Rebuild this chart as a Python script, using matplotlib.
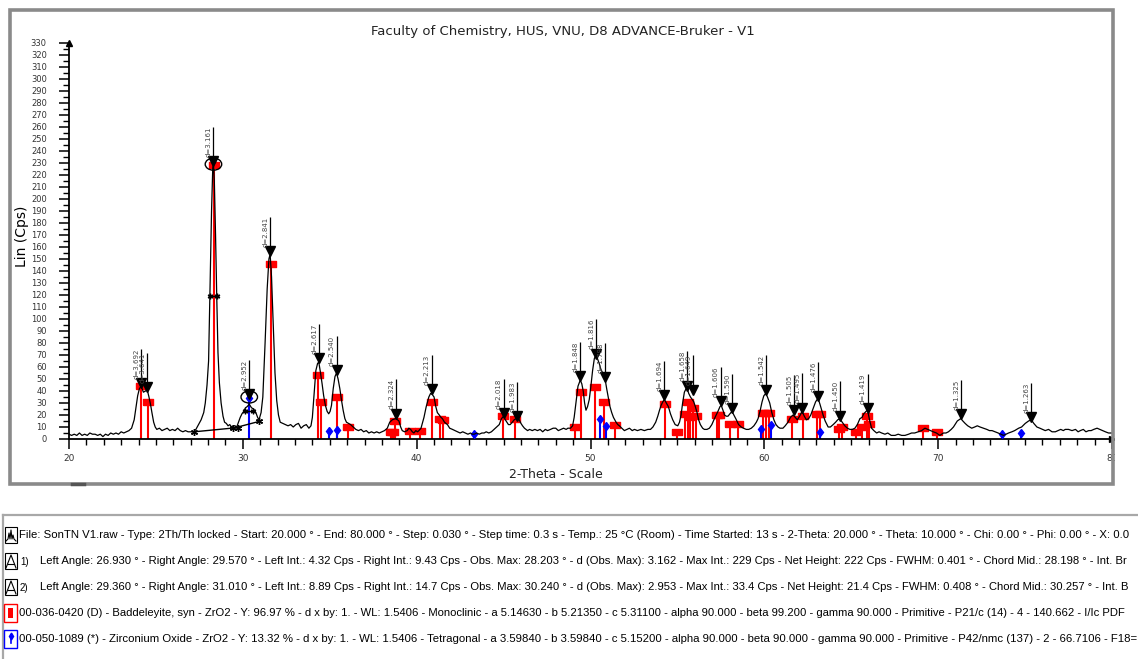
import matplotlib
matplotlib.use("Agg")
import matplotlib.pyplot as plt
from matplotlib.patches import Rectangle, Ellipse
from matplotlib.lines import Line2D
import matplotlib.transforms as mtransforms

# ---------------- data ----------------
theta = [20.00, 20.15, 20.3, 20.45, 20.6, 20.75, 20.9, 21.05, 21.2, 21.35, 21.5, 21.65, 21.8, 21.95,
         22.1, 22.25, 22.4, 22.55, 22.7, 22.85, 23.0, 23.15, 23.3, 23.45, 23.6, 23.75, 23.85, 23.95,
         24.05, 24.15, 24.28, 24.4, 24.5, 24.6, 24.7, 24.77, 24.87, 24.96, 25.05, 25.2, 25.35, 25.5,
         25.65, 25.8, 25.95, 26.1, 26.25, 26.4, 26.55, 26.7, 26.85, 27.0, 27.17, 27.3, 27.45, 27.6,
         27.75, 27.84, 27.94, 28.03, 28.1, 28.2, 28.27, 28.31, 28.36, 28.43, 28.5, 28.57, 28.65, 28.75,
         28.86, 28.95, 29.05, 29.15, 29.25, 29.35, 29.45, 29.55, 29.65, 29.75, 29.85, 29.95, 30.05,
         30.15, 30.25, 30.37, 30.5, 30.62, 30.75, 30.85, 30.93, 31.05, 31.15, 31.28, 31.4, 31.5, 31.57,
         31.65, 31.75, 31.85, 31.95, 32.05, 32.15, 32.3, 32.45, 32.6, 32.75, 32.9, 33.05, 33.2, 33.35,
         33.5, 33.65, 33.8, 33.92, 34.0, 34.1, 34.2, 34.3, 34.37, 34.47, 34.56, 34.65, 34.75, 34.85,
         34.94, 35.02, 35.1, 35.2, 35.3, 35.39, 35.48, 35.58, 35.68, 35.77, 35.87, 35.96, 36.08, 36.2,
         36.35, 36.5, 36.65, 36.8, 36.95, 37.1, 37.25, 37.4, 37.55, 37.7, 37.85, 38.0, 38.15, 38.31,
         38.45, 38.6, 38.79, 38.9, 38.98, 39.08, 39.17, 39.3, 39.46, 39.55, 39.65, 39.75, 39.84, 39.95,
         40.05, 40.13, 40.25, 40.42, 40.55, 40.7, 40.8, 40.9, 41.0, 41.1, 41.19, 41.3, 41.4, 41.48,
         41.6, 41.77, 41.9, 42.06, 42.2, 42.35, 42.5, 42.65, 42.8, 42.95, 43.1, 43.2, 43.31, 43.45,
         43.6, 43.75, 43.88, 44.0, 44.15, 44.3, 44.45, 44.6, 44.75, 44.88, 45.0, 45.1, 45.19, 45.28,
         45.38, 45.5, 45.61, 45.72, 45.8, 45.9, 46.0, 46.09, 46.2, 46.38, 46.5, 46.65, 46.8, 46.95,
         47.1, 47.25, 47.4, 47.53, 47.7, 47.85, 48.0, 48.15, 48.3, 48.45, 48.6, 48.7, 48.85, 48.97,
         49.06, 49.16, 49.28, 49.41, 49.5, 49.58, 49.66, 49.74, 49.83, 49.93, 50.03, 50.12, 50.22,
         50.31, 50.4, 50.5, 50.6, 50.7, 50.78, 50.85, 50.93, 51.02, 51.12, 51.22, 51.32, 51.47, 51.57,
         51.66, 51.8, 51.95, 52.1, 52.24, 52.4, 52.53, 52.7, 52.9, 53.1, 53.3, 53.45, 53.59, 53.75,
         53.87, 53.97, 54.06, 54.16, 54.25, 54.36, 54.48, 54.6, 54.73, 54.87, 55.02, 55.12, 55.21,
         55.3, 55.4, 55.5, 55.56, 55.65, 55.75, 55.85, 55.94, 56.03, 56.13, 56.22, 56.32, 56.45, 56.55,
         56.7, 56.84, 56.98, 57.13, 57.23, 57.33, 57.45, 57.52, 57.62, 57.71, 57.81, 57.91, 58.02,
         58.14, 58.25, 58.39, 58.52, 58.67, 58.8, 58.96, 59.1, 59.25, 59.4, 59.54, 59.64, 59.75, 59.87,
         59.97, 60.08, 60.18, 60.31, 60.43, 60.55, 60.67, 60.79, 60.9, 61.07, 61.2, 61.36, 61.5, 61.65,
         61.78, 61.9, 62.03, 62.17, 62.3, 62.42, 62.55, 62.67, 62.8, 62.95, 63.09, 63.2, 63.3, 63.38,
         63.5, 63.67, 63.8, 63.96, 64.1, 64.22, 64.34, 64.48, 64.63, 64.78, 64.92, 65.07, 65.21, 65.35,
         65.5, 65.62, 65.72, 65.85, 65.94, 66.05, 66.17, 66.3, 66.46, 66.6, 66.75, 66.94, 67.1, 67.3,
         67.52, 67.7, 67.9, 68.09, 68.3, 68.47, 68.65, 68.86, 69.05, 69.24, 69.4, 69.55, 69.72, 69.9,
         70.1, 70.3, 70.45, 70.59, 70.75, 70.88, 70.97, 71.1, 71.3, 71.42, 71.55, 71.7, 71.93, 72.1,
         72.25, 72.41, 72.6, 72.8, 72.95, 73.1, 73.28, 73.45, 73.6, 73.76, 73.9, 74.05, 74.24, 74.4,
         74.63, 74.8, 75.01, 75.2, 75.36, 75.5, 75.68, 75.85, 76.0, 76.16, 76.35, 76.55, 76.74, 76.9,
         77.05, 77.2, 77.31, 77.5, 77.7, 77.9, 78.05, 78.18, 78.35, 78.5, 78.66, 78.8, 78.95, 79.14,
         79.3, 79.45, 79.62, 79.8, 80.0]
counts = [4, 3, 4, 3, 5, 3, 4, 3, 5, 4, 4, 3, 4, 2,
          4, 3, 5, 4, 5, 4, 6, 5, 6, 7, 9, 16, 26, 36,
          42, 44, 39, 40, 41, 35, 28, 22, 14, 10, 8, 9, 7, 8,
          9, 7, 8, 7, 9, 7, 6, 7, 6, 6, 6, 8, 12, 16,
          22, 30, 45, 65, 118, 190, 226, 229, 215, 170, 118, 72, 47, 30,
          19, 14, 13, 11, 12, 10, 11, 11, 10, 14, 18, 21, 23,
          26, 27, 29, 26, 25, 22, 18, 16, 22, 35, 80, 125, 150, 154,
          135, 95, 55, 32, 20, 14, 13, 12, 11, 12, 10, 12, 13, 9,
          11, 12, 9, 11, 18, 38, 57, 63, 64, 55, 46, 36, 28, 23,
          21, 23, 28, 42, 52, 55, 50, 42, 32, 24, 17, 14, 13, 12,
          10, 8, 7, 8, 6, 7, 5, 6, 5, 6, 5, 6, 7, 9,
          14, 16, 17, 16, 15, 10, 7, 6, 7, 9, 8, 6, 5, 7,
          6, 7, 9, 18, 27, 35, 38, 37, 35, 27, 22, 20, 18, 17,
          14, 12, 9, 8, 7, 6, 5, 6, 5, 4, 5, 4, 4, 5,
          4, 5, 5, 6, 5, 6, 8, 10, 12, 17, 19, 16, 14, 12,
          12, 14, 16, 17, 18, 16, 13, 11, 9, 7, 8, 7, 8, 7,
          8, 6, 8, 7, 8, 9, 9, 7, 8, 9, 8, 9, 9, 11,
          18, 30, 44, 49, 46, 40, 30, 24, 27, 33, 45, 57, 67,
          70, 67, 63, 58, 55, 52, 49, 42, 35, 27, 22, 18, 14, 12,
          11, 9, 7, 8, 9, 7, 8, 7, 8, 7, 8, 8, 10, 14,
          19, 24, 28, 31, 33, 30, 27, 21, 16, 12, 11, 14, 20,
          30, 39, 42, 42, 38, 35, 33, 31, 27, 22, 16, 12, 9, 8,
          8, 9, 12, 17, 20, 23, 27, 28, 24, 20, 19, 19, 21,
          23, 20, 16, 12, 10, 9, 8, 8, 9, 11, 14, 17, 23, 31,
          36, 38, 35, 30, 22, 16, 12, 10, 9, 9, 11, 14, 18, 20,
          18, 16, 19, 23, 19, 16, 17, 20, 25, 31, 34, 29, 24, 20,
          15, 10, 10, 12, 14, 16, 17, 14, 11, 9, 8, 8, 9, 12,
          17, 18, 21, 23, 24, 16, 9, 7, 5, 6, 5, 4, 5, 3,
          3, 4, 3, 3, 4, 5, 5, 6, 7, 9, 8, 7, 6, 5,
          3, 5, 5, 6, 8, 10, 12, 15, 17, 15, 13, 11, 9, 10,
          11, 10, 9, 8, 7, 7, 6, 5, 4, 3, 4, 5, 6, 7,
          9, 10, 13, 15, 16, 13, 10, 9, 8, 7, 8, 6, 6, 7,
          8, 7, 8, 8, 7, 8, 6, 7, 8, 6, 7, 7, 8, 9,
          8, 7, 6, 5, 5]

# observed peaks (position, intensity, d label)
peak_theta = [24.15, 24.51, 28.30, 30.37, 31.59, 34.37, 35.39, 38.83, 40.86, 45.00, 45.80, 49.41,
              50.32, 50.85, 54.25, 55.54, 55.88, 57.48, 58.14, 60.08, 61.71, 62.19, 63.09, 64.38,
              65.94, 71.30, 75.35]
peak_int = [44, 41, 229, 35, 154, 65, 55, 18.6, 39, 19, 16.7, 50, 68.6, 49, 34, 42, 38.6, 29, 23,
            38.6, 22, 23.6, 33, 17, 23, 18, 16]
peak_labels = ["d=3.692", "d=3.641", "d=3.161", "d=2.952", "d=2.841", "d=2.617", "d=2.540",
               "d=2.324", "d=2.213", "d=2.018", "d=1.983", "d=1.848", "d=1.816", "d=1.798",
               "d=1.694", "d=1.658", "d=1.649", "d=1.606", "d=1.590", "d=1.542", "d=1.505",
               "d=1.495", "d=1.476", "d=1.450", "d=1.419", "d=1.325", "d=1.263"]

# 00-036-0420 Baddeleyite (red sticks)
red_theta = [24.15, 24.55, 28.32, 31.60, 34.31, 34.49, 35.43, 36.06, 38.50, 38.66, 38.75, 39.62,
             40.20, 40.90, 41.33, 41.50, 44.97, 45.66, 49.11, 49.45, 50.28, 50.76, 51.40, 54.29,
             54.95, 55.45, 55.60, 55.75, 55.88, 56.07, 57.28, 57.42, 58.05, 58.51, 59.92, 60.08,
             60.25, 61.58, 62.20, 63.04, 63.19, 64.28, 64.47, 65.26, 65.59, 65.88, 66.01, 69.14,
             69.91]
red_int = [44, 30.5, 228, 146, 53, 30.5, 35, 10, 6, 6, 15, 6.5,
           6.5, 30.5, 17, 16, 19, 17, 10, 39, 43.6, 30.5, 12, 29,
           6, 21, 30.5, 18.6, 25.6, 19, 20, 20, 12.5, 12.5, 21.5, 22,
           21.5, 17, 19, 21, 21, 8, 10, 6, 10, 19, 12.5, 9,
           6]

# 00-050-1089 Zirconium Oxide tetragonal (blue sticks)
blue_theta = [30.37, 34.93, 35.39, 43.32, 50.54, 50.89, 59.80, 60.40, 63.19, 73.70, 74.77]
blue_int = [34.5, 6.5, 7.5, 4, 17, 11, 8.5, 11.5, 5.5, 4, 5]

# area evaluation marks: background lines and half-height chords (x1, y1, x2, y2)
bg_lines = [(27.2, 6.0, 29.7, 9.5), (29.45, 9.0, 30.95, 14.7)]
chords = [(28.10, 119, 28.50, 119), (30.15, 23.5, 30.56, 23.5)]
ellipse_marks = [(28.31, 229), (30.37, 35)]

x_ticks = [20, 30, 40, 50, 60, 70, 80]
x_tick_labels = ["20", "30", "40", "50", "60", "70", "80"]
y_ticks = list(range(0, 331, 10))

title = "Faculty of Chemistry, HUS, VNU, D8 ADVANCE-Bruker - V1"
x_label = "2-Theta - Scale"
y_label = "Lin (Cps)"

legend_rows = [
    "File: SonTN V1.raw - Type: 2Th/Th locked - Start: 20.000 ° - End: 80.000 ° - Step: 0.030 ° - Step time: 0.3 s - Temp.: 25 °C (Room) - Time Started: 13 s - 2-Theta: 20.000 ° - Theta: 10.000 ° - Chi: 0.00 ° - Phi: 0.00 ° - X: 0.0",
    "Left Angle: 26.930 ° - Right Angle: 29.570 ° - Left Int.: 4.32 Cps - Right Int.: 9.43 Cps - Obs. Max: 28.203 ° - d (Obs. Max): 3.162 - Max Int.: 229 Cps - Net Height: 222 Cps - FWHM: 0.401 ° - Chord Mid.: 28.198 ° - Int. Br",
    "Left Angle: 29.360 ° - Right Angle: 31.010 ° - Left Int.: 8.89 Cps - Right Int.: 14.7 Cps - Obs. Max: 30.240 ° - d (Obs. Max): 2.953 - Max Int.: 33.4 Cps - Net Height: 21.4 Cps - FWHM: 0.408 ° - Chord Mid.: 30.257 ° - Int. B",
    "00-036-0420 (D) - Baddeleyite, syn - ZrO2 - Y: 96.97 % - d x by: 1. - WL: 1.5406 - Monoclinic - a 5.14630 - b 5.21350 - c 5.31100 - alpha 90.000 - beta 99.200 - gamma 90.000 - Primitive - P21/c (14) - 4 - 140.662 - I/Ic PDF",
    "00-050-1089 (*) - Zirconium Oxide - ZrO2 - Y: 13.32 % - d x by: 1. - WL: 1.5406 - Tetragonal - a 3.59840 - b 3.59840 - c 5.15200 - alpha 90.000 - beta 90.000 - gamma 90.000 - Primitive - P42/nmc (137) - 2 - 66.7106 - F18=",
]
row_prefix = ["", "1)", "2)", "", ""]

# ---------------- layout ----------------
W, H, DPI = 1138, 659, 100
fig = plt.figure(figsize=(W / DPI, H / DPI), dpi=DPI)
fig.patch.set_facecolor("white")


def fx(px):
    return px / W


def fy(py):
    return 1 - py / H


AX_L, AX_R, AX_B, AX_T = 69, 1112, 439, 43
ax = fig.add_axes([fx(AX_L), fy(AX_B), (AX_R - AX_L) / W, (AX_B - AX_T) / H])
ax.set_xlim(20, 80)
ax.set_ylim(0, 330)
for s in ["top", "right"]:
    ax.spines[s].set_visible(False)
for s in ["left", "bottom"]:
    ax.spines[s].set_linewidth(1.3)
    ax.spines[s].set_color("black")
ax.plot(1, 0, ">", color="black", markersize=5, transform=ax.transAxes, clip_on=False)
ax.plot(0, 1, "^", color="black", markersize=5, transform=ax.transAxes, clip_on=False)

ax.set_xticks(x_ticks)
ax.set_xticklabels(x_tick_labels)
ax.set_xticks([t for t in range(20, 81)], minor=True)
ax.set_yticks(y_ticks)
ax.set_yticklabels([str(v) for v in y_ticks])
ax.set_yticks([v + 5 for v in y_ticks[:-1]], minor=True)
ax.tick_params(axis="x", which="major", length=7, width=1.1, labelsize=6.5, pad=4,
               labelcolor="#333333", direction="out")
ax.tick_params(axis="x", which="minor", length=4, width=1.0, direction="out")
ax.tick_params(axis="y", which="major", length=7, width=1.1, labelsize=6, pad=9,
               labelcolor="#333333", direction="out")
ax.tick_params(axis="y", which="minor", length=4, width=1.0, direction="out")

# sticks
ax.vlines(red_theta, 0, red_int, color="#ff0000", lw=1.5, zorder=2)
rect_marker = [(-1.5, -1), (1.5, -1), (1.5, 1), (-1.5, 1), (-1.5, -1)]
ax.plot(red_theta, red_int, ls="none", marker=rect_marker, markersize=6.5, color="#ff0000", zorder=3)
ax.vlines(blue_theta, 0, blue_int, color="#0000ff", lw=1.5, zorder=2)
ax.plot(blue_theta, blue_int, ls="none", marker="d", markersize=4.5, color="#0000ff", zorder=3)

# measured pattern
ax.plot(theta, counts, color="black", lw=0.9, zorder=4)

# area evaluation marks
star = (6, 2, 0)
for x1, y1, x2, y2 in bg_lines:
    ax.plot([x1, x2], [y1, y2], color="black", lw=1.0, marker=star, markersize=5, zorder=5)
for x1, y1, x2, y2 in chords:
    ax.plot([x1, x2], [y1, y2], color="black", lw=1.0, marker=star, markersize=4, zorder=5)
for ex, ey in ellipse_marks:
    ax.add_patch(Ellipse((ex, ey), width=0.95, height=10, fill=False, ec="black", lw=1.0, zorder=6))

# peak markers with d labels
lbl_tr = mtransforms.offset_copy(ax.transData, fig=fig, x=-1.5, y=0, units="dots")
for pt, pi, lab in zip(peak_theta, peak_int, peak_labels):
    ax.plot([pt], [pi + 2.5], marker="v", color="black", markersize=7, zorder=6)
    ax.vlines(pt, pi + 2.5, pi + 31, color="black", lw=0.9, zorder=6)
    ax.text(pt, pi + 6, lab, rotation=90, ha="right", va="bottom", fontsize=5,
            color="#444444", transform=lbl_tr, zorder=6)

# titles
fig.text(fx(563), fy(32), title, ha="center", va="center", fontsize=9.5, color="#222222")
fig.text(fx(556), fy(474), x_label, ha="center", va="center", fontsize=9, color="#222222")
fig.text(fx(22), fy(236), y_label, ha="center", va="center", rotation=90, fontsize=10, color="black")

# mask beyond frame + frame
fig.patches.append(Rectangle((fx(1115), fy(487)), (W - 1115) / W, (487 - 0) / H,
                             transform=fig.transFigure, facecolor="white", edgecolor="none", zorder=5))
fig.patches.append(Rectangle((fx(10), fy(484)), (1113 - 10) / W, (484 - 10) / H,
                             transform=fig.transFigure, fill=False, edgecolor="#8a8a8a", lw=2.6, zorder=6))
fig.lines.append(Line2D([fx(72), fx(84)], [fy(484), fy(484)], transform=fig.transFigure,
                        color="#555555", lw=2.5, zorder=7))

# legend box
fig.lines.append(Line2D([fx(3), fx(W)], [fy(515), fy(515)], transform=fig.transFigure,
                        color="#a8a8a8", lw=1.6, zorder=6))
fig.lines.append(Line2D([fx(3), fx(3)], [fy(515), fy(H)], transform=fig.transFigure,
                        color="#a8a8a8", lw=1.6, zorder=6))

row_y = [535, 561, 587, 613, 639]
row_x = [19, 40, 40, 19, 19]
row_end = [1127, 1128, 1130, 1127, 1132]
legend_font = ["Liberation Sans Narrow", "Liberation Sans", "DejaVu Sans"]


def box(x0, y0, w, h, ec="black", fc="none", lw=0.8):
    fig.patches.append(Rectangle((fx(x0), fy(y0 + h)), w / W, h / H, transform=fig.transFigure,
                                 facecolor=fc, edgecolor=ec, lw=lw, zorder=7))


def pline(xs, ys, color="black", lw=0.8):
    fig.lines.append(Line2D([fx(v) for v in xs], [fy(v) for v in ys], transform=fig.transFigure,
                            color=color, lw=lw, zorder=8))


texts = []
for i, (ry, rx, txt) in enumerate(zip(row_y, row_x, legend_rows)):
    top = ry - 8
    if i == 0:
        box(5, top, 12, 16)
        pline([6, 8, 9, 10, 11, 12, 13, 14, 16], [top + 14, top + 12, top + 6, top + 12, top + 3,
                                                   top + 12, top + 8, top + 12, top + 14])
    elif i in (1, 2):
        box(5, top, 12, 16)
        pline([6, 11, 16], [top + 15, top + 2, top + 15])
        pline([8, 14], [top + 11, top + 11])
        fig.text(fx(20), fy(ry + 1), row_prefix[i], ha="left", va="center", fontsize=7,
                 family=legend_font, color="black")
    elif i == 3:
        box(4, top - 1, 13, 18, ec="#ff0000", lw=1.0)
        box(8, top + 3, 5, 10, ec="none", fc="#ff0000")
    else:
        box(4, top - 1, 13, 18, ec="#0000ff", lw=1.0)
        pline([10.5, 10.5], [top + 6, top + 12], color="#0000ff", lw=1.2)
        fig.lines.append(Line2D([fx(10.5)], [fy(top + 5)], transform=fig.transFigure, marker="d",
                                markersize=3.5, color="#0000ff", zorder=9))
    t = fig.text(fx(rx), fy(ry), txt, ha="left", va="center", fontsize=9, family=legend_font,
                 color="black")
    texts.append(t)

# fit legend rows to their widths
fig.canvas.draw()
r = fig.canvas.get_renderer()
for t, rx, re_ in zip(texts, row_x, row_end):
    bb = t.get_window_extent(r)
    t.set_fontsize(t.get_fontsize() * (re_ - rx) / bb.width)

fig.savefig("out.png", dpi=DPI, facecolor="white")
